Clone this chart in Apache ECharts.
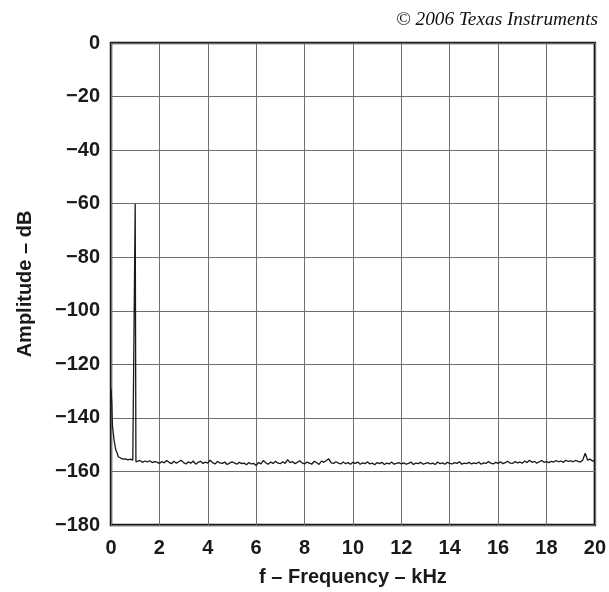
<!DOCTYPE html>
<html>
<head>
<meta charset="utf-8">
<script src="https://cdn.jsdelivr.net/npm/echarts@6/dist/echarts.min.js"></script>
<style>html,body{margin:0;padding:0;background:#fff}#c{width:609px;height:592px}</style>
</head>
<body>
<div id="c"></div>
<script>
// Low-frequency skirt and the 1 kHz tone: [kHz, dB]
const lowFreqKHz = [0, 0.03, 0.06, 0.1, 0.13, 0.16, 0.2, 0.25, 0.3, 0.4, 0.5, 0.6, 0.7, 0.8, 0.9, 0.97, 1.0, 1.03];
const lowFreqDb  = [-129, -134, -143, -146, -148.5, -150, -152, -153, -154.5, -155, -155.4, -155.3, -155.7, -155.4, -155.8, -155.5, -60, -156.4];
// Noise floor bins from 1.1 kHz to 20.0 kHz, 0.1 kHz apart
const noiseStartKHz = 1.1;
const noiseStepKHz = 0.1;
const noiseDb = [
 -156.2,-155.9,-156.6,-156.1,-156.4,-156.0,-156.7,-156.3,-156.5,-157.0,
 -156.3,-156.8,-155.9,-156.6,-157.1,-156.2,-156.9,-156.4,-155.8,-156.7,
 -157.2,-156.4,-156.9,-156.1,-157.3,-156.6,-156.2,-157.0,-156.5,-156.9,
 -155.8,-156.7,-157.2,-156.3,-156.8,-157.0,-156.5,-157.4,-156.9,-156.4,
 -156.8,-157.3,-156.6,-157.1,-156.9,-157.5,-156.7,-157.2,-157.0,-157.8,
 -156.6,-157.2,-155.9,-156.8,-157.3,-156.5,-157.0,-156.2,-156.9,-157.1,
 -156.4,-157.0,-155.6,-156.7,-156.3,-157.1,-156.6,-156.0,-156.8,-157.2,
 -156.5,-156.9,-157.3,-156.2,-156.7,-157.4,-156.1,-156.6,-155.9,-155.3,
 -156.8,-157.0,-156.4,-156.9,-157.2,-156.5,-157.1,-156.7,-157.3,-156.6,
 -157.0,-156.5,-157.3,-156.8,-157.1,-156.4,-157.2,-156.9,-157.5,-156.7,
 -157.1,-156.6,-157.4,-156.9,-157.2,-156.5,-157.3,-157.0,-156.7,-157.2,
 -156.8,-157.3,-157.0,-156.5,-157.4,-156.9,-157.1,-156.6,-157.3,-157.0,
 -156.7,-157.2,-156.9,-157.4,-156.5,-157.1,-156.8,-157.3,-156.6,-157.0,
 -157.2,-156.7,-157.0,-156.4,-157.3,-156.9,-157.1,-156.6,-157.2,-156.8,
 -157.1,-156.5,-157.3,-156.8,-157.0,-156.3,-156.9,-157.2,-156.6,-157.0,
 -156.4,-157.1,-156.7,-156.2,-156.9,-157.0,-156.3,-156.8,-156.5,-156.9,
 -156.1,-156.7,-155.8,-156.6,-156.2,-156.9,-156.4,-155.9,-156.6,-156.3,
 -156.7,-156.2,-156.5,-155.9,-156.4,-156.1,-156.6,-155.8,-156.3,-156.0,
 -156.4,-155.9,-156.2,-156.5,-155.7,-153.2,-155.8,-155.4,-156.1,-155.9
];
const xTicks = [0, 2, 4, 6, 8, 10, 12, 14, 16, 18, 20];
const yTicks = [0, -20, -40, -60, -80, -100, -120, -140, -160, -180];

const data = lowFreqKHz.map((f, i) => [f, lowFreqDb[i]]);
noiseDb.forEach((v, i) => data.push([+(noiseStartKHz + i * noiseStepKHz).toFixed(2), v]));

const font = 'Liberation Sans, Arial, sans-serif';
const chart = echarts.init(document.getElementById('c'));
chart.setOption({
  animation: false,
  backgroundColor: '#fff',
  title: {
    text: '© 2006 Texas Instruments',
    right: 6, top: 5,
    textStyle: { fontFamily: 'Liberation Serif, Times New Roman, serif', fontStyle: 'italic', fontWeight: 'normal', fontSize: 19.3, color: '#111' }
  },
  grid: { left: 111, right: 12, top: 43, bottom: 63, show: true, borderColor: '#1a1a1a', borderWidth: 2.5, backgroundColor: 'transparent' },
  xAxis: {
    type: 'value', min: xTicks[0], max: xTicks[xTicks.length - 1], interval: 2,
    name: 'f – Frequency – kHz', nameLocation: 'middle', nameGap: 42,
    nameTextStyle: { fontFamily: font, fontWeight: 'bold', fontSize: 20, color: '#1a1a1a' },
    axisLine: { show: false }, axisTick: { show: false },
    axisLabel: { margin: 13, fontFamily: font, fontWeight: 'bold', fontSize: 20, color: '#1a1a1a' },
    splitLine: { show: true, lineStyle: { color: '#6e6e6e', width: 1 } }
  },
  yAxis: {
    type: 'value', min: yTicks[yTicks.length - 1], max: yTicks[0], interval: 20,
    name: 'Amplitude – dB', nameLocation: 'middle', nameGap: 76, nameRotate: 90,
    nameTextStyle: { fontFamily: font, fontWeight: 'bold', fontSize: 20, color: '#1a1a1a' },
    axisLine: { show: false }, axisTick: { show: false },
    axisLabel: { margin: 11, fontFamily: font, fontWeight: 'bold', fontSize: 20, color: '#1a1a1a',
      formatter: v => String(v).replace('-', '\u2212') },
    splitLine: { show: true, lineStyle: { color: '#6e6e6e', width: 1 } }
  },
  series: [{
    type: 'line', data: data, showSymbol: false, symbol: 'none',
    lineStyle: { color: '#1a1a1a', width: 1.3 }
  }]
});
</script>
</body>
</html>
